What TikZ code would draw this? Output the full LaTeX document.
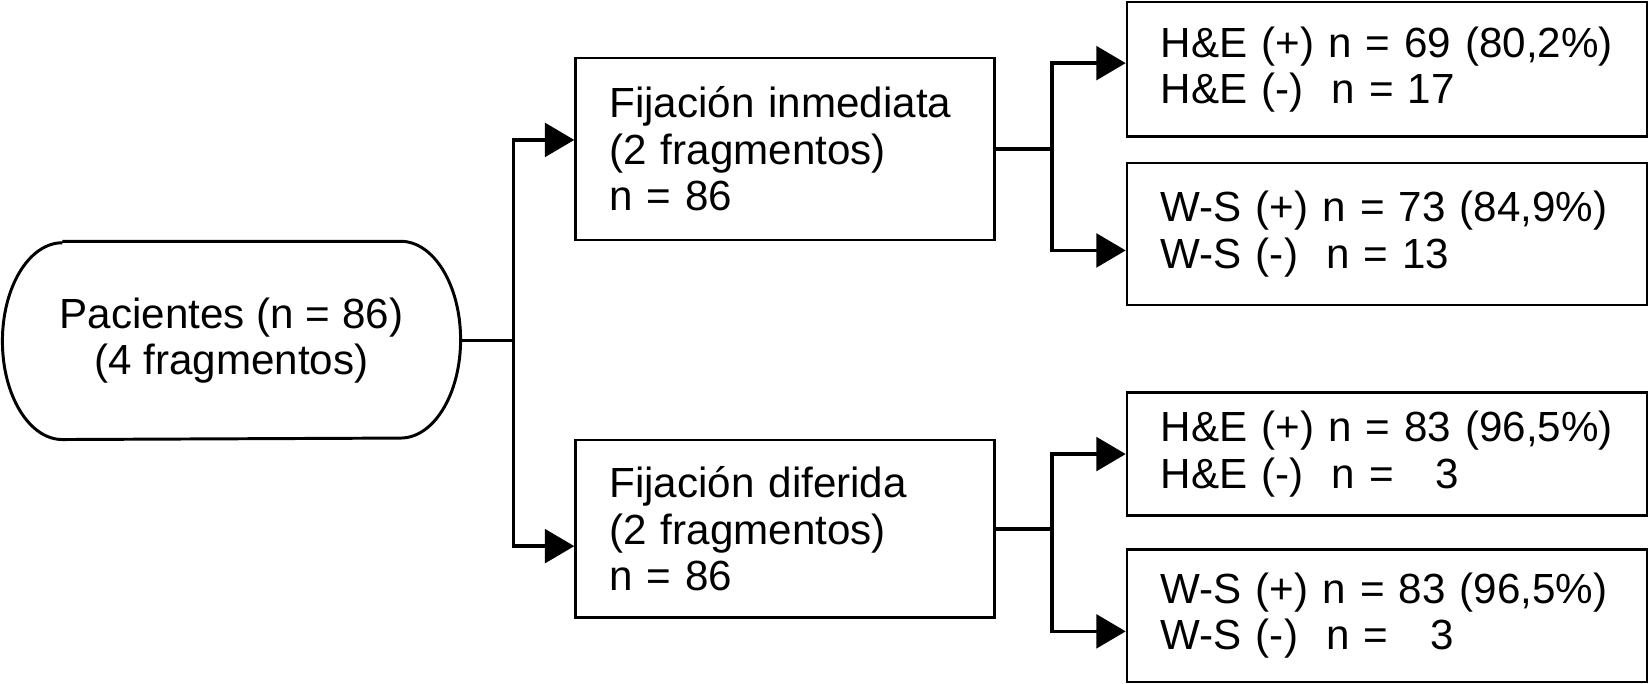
\documentclass[tikz,border=0pt]{standalone}
\usepackage{fontspec}
\setmainfont{Liberation Sans}
\usetikzlibrary{arrows.meta}

\begin{document}
\begin{tikzpicture}[
        font=\fontsize{11.4}{12.5}\selectfont,
        box/.style={draw, line width=0.7pt, inner xsep=0.32cm, align=left},
        conn/.style={line width=1pt},
        arr/.style={conn, -{Triangle[length=0.28cm, width=0.32cm]}}]
                \useasboundingbox (0,0) rectangle (15.68,6.50);

                % pacientes
                \node[align=center, minimum width=4.34cm, minimum height=1.87cm] (pac) at (2.20,3.265) {Pacientes (n = 86)\\(4 fragmentos)};
                \draw[line width=0.8pt] ([xshift=0.57cm]pac.north west) -- ([xshift=-0.57cm]pac.north east)
                    arc[start angle=90, end angle=-90, x radius=0.57cm, y radius=0.935cm]
                    -- ([xshift=0.57cm]pac.south west)
                    arc[start angle=270, end angle=90, x radius=0.57cm, y radius=0.935cm];

                % fijacion
                \node[box, text width=3.34cm, minimum height=1.73cm] (inm) at (7.46,5.085) {Fijación inmediata\\(2 fragmentos)\\n = 86};
                \node[box, text width=3.34cm, minimum height=1.69cm] (dif) at (7.46,1.475) {Fijación diferida\\(2 fragmentos)\\n = 86};

                % resultados
                \node[box, text width=4.30cm, minimum height=1.28cm] (heA) at (13.18,5.84) {H\&E (+) n = 69 (80,2\%)\\H\&E (-)\ \ n = 17};
                \node[box, text width=4.30cm, minimum height=1.35cm] (wsA) at (13.18,4.275) {W-S (+) n = 73 (84,9\%)\\W-S (-)\ \ n = 13};
                \node[box, text width=4.30cm, minimum height=1.17cm] (heB) at (13.18,2.185) {H\&E (+) n = 83 (96,5\%)\\H\&E (-)\ \ n =\ \ \ 3};
                \node[box, text width=4.30cm, minimum height=1.26cm] (wsB) at (13.18,0.65) {W-S (+) n = 83 (96,5\%)\\W-S (-)\ \ n =\ \ \ 3};

                \coordinate (s1) at (4.88,0);
                \coordinate (s2) at (10.00,0);

                \draw[conn] (pac.east) -- (pac.east -| s1);
                \draw[arr] (pac.east -| s1) |- ([yshift=0.085cm]inm.west);
                \draw[arr] (pac.east -| s1) |- ([yshift=-0.165cm]dif.west);

                \draw[conn] (inm.east) -- (inm.east -| s2);
                \draw[arr] (inm.east -| s2) |- ([yshift=0.06cm]heA.west);
                \draw[arr] (inm.east -| s2) |- ([yshift=-0.155cm]wsA.west);

                \draw[conn] (dif.east) -- (dif.east -| s2);
                \draw[arr] (dif.east -| s2) |- (heB.west);
                \draw[arr] (dif.east -| s2) |- ([yshift=-0.15cm]wsB.west);
\end{tikzpicture}
\end{document}
